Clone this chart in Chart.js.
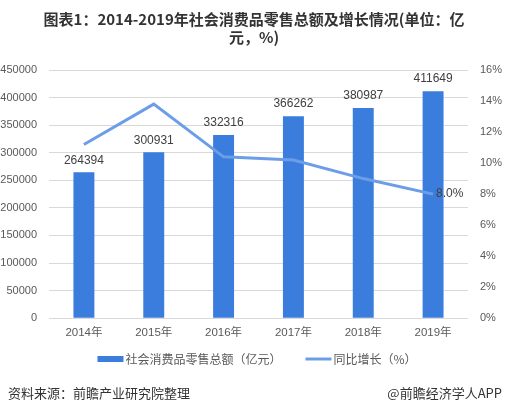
<!DOCTYPE html>
<html><head><meta charset="utf-8">
<script src="https://cdn.jsdelivr.net/npm/chart.js@4"></script>
<style>html,body{margin:0;padding:0;background:#fff;}#wrap{width:508px;height:413px;position:relative;}</style>
</head><body><div id="wrap"><canvas id="c" width="508" height="413"></canvas></div>
<script>
const categories = ["2014年","2015年","2016年","2017年","2018年","2019年"];
const retailSales = [264394,300931,332316,366262,380987,411649];
const growthRate = [11.2,13.8,10.4,10.2,9.0,8.0];
const titleLines = ["图表1：2014-2019年社会消费品零售总额及增长情况(单位：亿","元，%)"];
const seriesNames = ["社会消费品零售总额（亿元）","同比增长（%）"];
const sourceText = "资料来源：前瞻产业研究院整理";
const brandText = "@前瞻经济学人APP";

const NUM = "'Liberation Sans', 'Noto Sans CJK SC', sans-serif";
const CJK = "'Noto Sans CJK SC', sans-serif";
const BAR_COLOR = '#3b7ddd';
const LINE_COLOR = '#6c9ee8';

const labelPlugin = {
  id:'labels',
  afterDatasetsDraw(chart){
    const ctx = chart.ctx;
    ctx.save();
    ctx.font = "12px " + NUM;
    ctx.fillStyle = "#404040";
    ctx.textAlign = "center";
    ctx.textBaseline = "bottom";
    const m0 = chart.getDatasetMeta(0);
    m0.data.forEach((el,i)=>{ ctx.fillText(String(retailSales[i]), el.x, el.y - 6); });
    const m1 = chart.getDatasetMeta(1);
    const last = m1.data[m1.data.length-1];
    ctx.textAlign = "left"; ctx.textBaseline = "middle";
    ctx.fillText(growthRate[growthRate.length-1].toFixed(1) + "%", last.x + 3, last.y);
    ctx.restore();
  },
  afterDraw(chart){
    const ctx = chart.ctx;
    ctx.save();
    // legend
    const ly = 359;
    ctx.font = "12px " + CJK;
    ctx.textBaseline = "middle";
    ctx.textAlign = "left";
    const w1 = ctx.measureText(seriesNames[0]).width;
    const w2 = ctx.measureText(seriesNames[1]).width;
    const sw = 26, gapT = 2, gapI = 24;
    const total = sw + gapT + w1 + gapI + sw + gapT + w2;
    let x = (chart.width - total) / 2 + 3;
    ctx.fillStyle = BAR_COLOR;
    ctx.fillRect(x, ly - 3, sw, 6);
    ctx.fillStyle = '#595959';
    ctx.fillText(seriesNames[0], x + sw + gapT, ly);
    x += sw + gapT + w1 + gapI;
    ctx.strokeStyle = LINE_COLOR; ctx.lineWidth = 3;
    ctx.beginPath(); ctx.moveTo(x, ly); ctx.lineTo(x + sw, ly); ctx.stroke();
    ctx.fillText(seriesNames[1], x + sw + gapT, ly);
    // footer
    ctx.font = "13px " + CJK;
    ctx.fillStyle = "#333";
    ctx.fillText(sourceText, 8, 393);
    ctx.textAlign = "right";
    ctx.fillText(brandText, 502, 393);
    ctx.restore();
  }
};

new Chart(document.getElementById('c'), {
  data:{
    labels: categories,
    datasets:[
      {type:'bar', label:seriesNames[0], data:retailSales, yAxisID:'y', backgroundColor:BAR_COLOR, borderWidth:0, barPercentage:0.3, categoryPercentage:1, order:2},
      {type:'line', label:seriesNames[1], data:growthRate, yAxisID:'y1', borderColor:LINE_COLOR, backgroundColor:LINE_COLOR, borderWidth:3, pointRadius:0, tension:0, order:1}
    ]
  },
  options:{
    responsive:false, animation:false,
    layout:{padding:{left:0,right:0,top:0,bottom:65}},
    plugins:{
      title:{display:true, text:titleLines, color:'#333', font:{family:CJK, size:15, weight:'bold', lineHeight:1.2}, padding:{top:10,bottom:24}},
      legend:{display:false},
      tooltip:{enabled:false}
    },
    scales:{
      x:{grid:{display:false, drawTicks:false}, border:{display:false}, ticks:{color:'#595959', font:{family:NUM, size:11.5}, padding:8}},
      y:{position:'left', min:0, max:450000, ticks:{stepSize:50000, color:'#595959', font:{family:NUM, size:11}, padding:12, callback:v=>String(v)}, grid:{color:'#d9d9d9', drawTicks:false}, border:{display:false},
         afterFit(s){ s.width = 49; }},
      y1:{position:'right', min:0, max:16, ticks:{stepSize:2, color:'#595959', font:{family:NUM, size:11}, padding:12, callback:v=>v+'%'}, grid:{display:false, drawTicks:false}, border:{display:false},
         afterFit(s){ s.width = 40; }}
    }
  },
  plugins:[labelPlugin]
});
</script></body></html>
